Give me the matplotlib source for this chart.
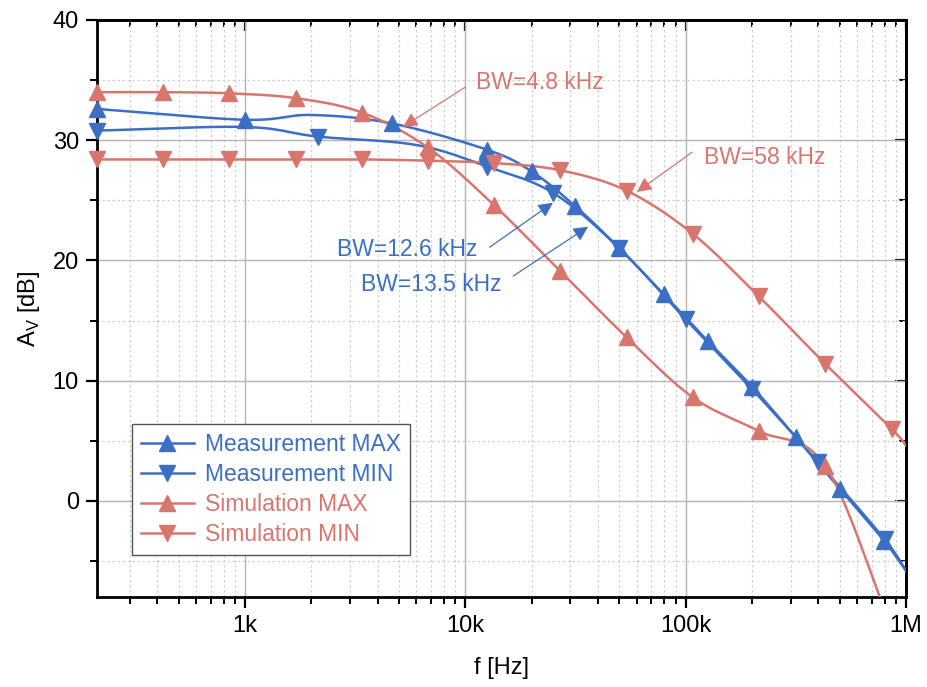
import numpy as np
import matplotlib
matplotlib.use("Agg")
import matplotlib.pyplot as plt
from matplotlib.lines import Line2D
from matplotlib.ticker import FixedLocator, FuncFormatter, MultipleLocator, LogLocator

plt.rcParams['font.family'] = ['Liberation Sans', 'DejaVu Sans']

# Werte
meas_max_f = [213, 1000, 2000, 4640, 12600, 20000, 31600, 50100, 79400, 126000, 200000, 316000, 501000, 794000, 1000000]
meas_max_db = [32.6, 31.7, 32.1, 31.4, 29.2, 27.4, 24.5, 21.0, 17.2, 13.3, 9.5, 5.3, 1.0, -3.3, -5.8]
meas_max_mark = [True, True, False, True, True, True, True, True, True, True, True, True, True, True, False]

meas_min_f = [213, 1000, 2140, 6000, 12600, 25100, 50100, 100000, 200000, 400000, 800000, 1000000]
meas_min_db = [30.8, 31.1, 30.3, 29.6, 27.8, 25.6, 21.0, 15.1, 9.3, 3.2, -3.2, -5.8]
meas_min_mark = [True, False, True, False, True, True, True, True, True, True, True, False]

sim_max_f = [213, 425, 850, 1700, 3400, 6750, 13500, 27000, 54000, 108000, 215000, 430000, 860000]
sim_max_db = [34.0, 34.0, 33.9, 33.5, 32.3, 29.4, 24.6, 19.1, 13.6, 8.6, 5.8, 2.9, -10.5]
sim_max_mark = [True] * 12 + [False]

sim_min_f = [213, 425, 850, 1700, 3400, 6750, 13500, 27000, 54000, 108000, 215000, 430000, 860000, 1000000]
sim_min_db = [28.4, 28.4, 28.4, 28.4, 28.4, 28.3, 28.1, 27.5, 25.8, 22.2, 17.0, 11.4, 6.0, 4.6]
sim_min_mark = [True] * 13 + [False]

blue = '#3b6fc5'
red = '#d8766e'


def spline(f, y, n=24):
    # Catmull-Rom in (log f, y), nur fuer die Linie
    p = np.column_stack([np.log10(f), y])
    p = np.vstack([2 * p[0] - p[1], p, 2 * p[-1] - p[-2]])
    t = np.linspace(0, 1, n, endpoint=False)[:, None]
    out = []
    for i in range(1, len(p) - 2):
        p0, p1, p2, p3 = p[i - 1], p[i], p[i + 1], p[i + 2]
        seg = 0.5 * (2 * p1 + (-p0 + p2) * t + (2 * p0 - 5 * p1 + 4 * p2 - p3) * t ** 2
                     + (-p0 + 3 * p1 - 3 * p2 + p3) * t ** 3)
        out.append(seg)
    out.append(p[-2][None])
    a = np.vstack(out)
    return 10 ** a[:, 0], a[:, 1]


fig = plt.figure(figsize=(9.27, 6.87), dpi=100)
ax = fig.add_axes([0.1046, 0.131, 0.8727, 0.8399])
ax.set_xscale('log')
ax.set_xlim(213, 1e6)
ax.set_ylim(-8, 40)

series = [
    (meas_max_f, meas_max_db, meas_max_mark, blue, '^', 'Measurement MAX'),
    (meas_min_f, meas_min_db, meas_min_mark, blue, 'v', 'Measurement MIN'),
    (sim_max_f, sim_max_db, sim_max_mark, red, '^', 'Simulation MAX'),
    (sim_min_f, sim_min_db, sim_min_mark, red, 'v', 'Simulation MIN'),
]

handles = []
for f, y, mk, c, m, lab in series:
    sx, sy = spline(f, y)
    ax.plot(sx, sy, color=c, lw=1.8, zorder=3)
    f = np.array(f)
    y = np.array(y)
    keep = np.array(mk)
    ax.plot(f[keep], y[keep], linestyle='none', marker=m, ms=11, color=c,
            clip_on=False, zorder=4)
    handles.append(Line2D([], [], color=c, lw=1.8, marker=m, ms=11, label=lab))

# Gitter
ax.grid(which='major', color='#b4b4b4', lw=1, ls='-')
ax.grid(which='minor', color='#d0d0d0', lw=0.9, ls=(0, (2, 2)))
ax.set_axisbelow(True)

ax.xaxis.set_major_locator(FixedLocator([1e3, 1e4, 1e5, 1e6]))
ax.xaxis.set_minor_locator(LogLocator(base=10, subs=np.arange(2, 10), numticks=20))
labels = {1e3: '1k', 1e4: '10k', 1e5: '100k', 1e6: '1M'}
ax.xaxis.set_major_formatter(FuncFormatter(lambda v, p: labels.get(v, '')))
ax.xaxis.set_minor_formatter(FuncFormatter(lambda v, p: ''))
ax.yaxis.set_major_locator(MultipleLocator(10))
ax.yaxis.set_minor_locator(MultipleLocator(5))

for s in ax.spines.values():
    s.set_linewidth(2)
ax.tick_params(which='major', direction='out', length=8, width=1.6, labelsize=17, pad=5)
ax.tick_params(which='minor', direction='out', length=5, width=1.4)

# Innenliegende Ticks oben und rechts
top = ax.secondary_xaxis('top')
top.xaxis.set_major_locator(FixedLocator([1e3, 1e4, 1e5, 1e6]))
top.xaxis.set_minor_locator(LogLocator(base=10, subs=np.arange(2, 10), numticks=20))
top.tick_params(which='major', direction='in', length=8, width=1.6, labeltop=False)
top.tick_params(which='minor', direction='in', length=5, width=1.4, labeltop=False)
top.spines['top'].set_linewidth(2)
right = ax.secondary_yaxis('right')
right.yaxis.set_major_locator(MultipleLocator(10))
right.yaxis.set_minor_locator(MultipleLocator(5))
right.tick_params(which='major', direction='in', length=8, width=1.6, labelright=False)
right.tick_params(which='minor', direction='in', length=5, width=1.4, labelright=False)
right.spines['right'].set_linewidth(2)

ax.set_xlabel('f [Hz]', fontsize=17, labelpad=14)
ax.set_ylabel(r'A$_\mathregular{V}$ [dB]', fontsize=17, labelpad=8)

# Bandbreiten-Anmerkungen
notes = [
    ('BW=4.8 kHz', red, (21800, 34.8), (9970, 34.4), (5210, 31.1)),
    ('BW=58 kHz', red, (229000, 28.6), (107000, 29.0), (60100, 25.7)),
    ('BW=12.6 kHz', blue, (5430, 20.9), (12900, 21.1), (25000, 24.8)),
    ('BW=13.5 kHz', blue, (6980, 18.0), (16500, 18.7), (36100, 22.8)),
]
for txt, c, tpos, tail, tip in notes:
    ax.text(tpos[0], tpos[1], txt, color=c, fontsize=16.5, ha='center', va='center', zorder=5)
    ax.annotate('', xy=tip, xytext=tail,
                arrowprops=dict(arrowstyle='-|>', color=c, lw=0.9, mutation_scale=22,
                                shrinkA=0, shrinkB=0), zorder=5)

leg = ax.legend(handles=handles, loc='lower left', bbox_to_anchor=(0.043, 0.073),
                borderaxespad=0, fontsize=16.5, handlelength=2.3, fancybox=False,
                framealpha=1, edgecolor='#555555', labelspacing=0.3, handletextpad=0.5)
leg.get_frame().set_linewidth(1)
for t, h in zip(leg.get_texts(), handles):
    t.set_color(h.get_color())

plt.savefig('out.png', dpi=100)
